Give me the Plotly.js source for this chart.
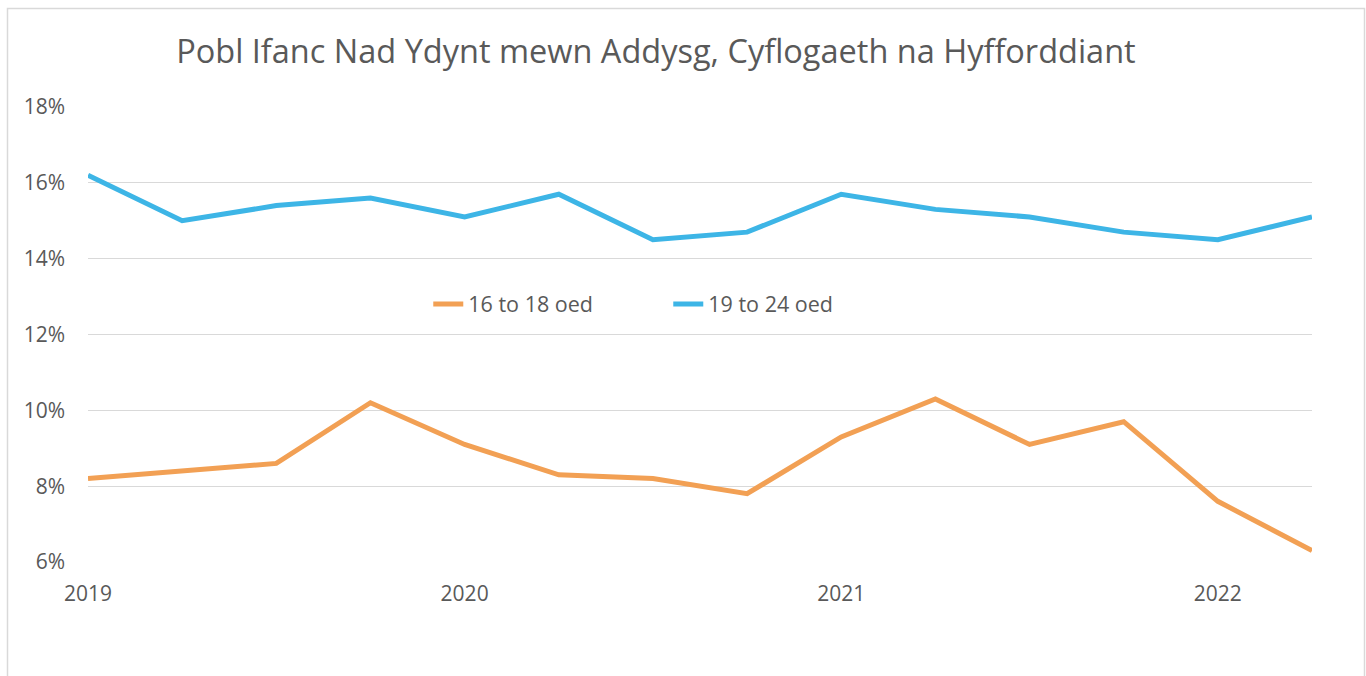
<!DOCTYPE html>
<html>
<head>
<meta charset="utf-8">
<script src="https://cdn.plot.ly/plotly-3.0.1.min.js"></script>
<style>
html,body{margin:0;padding:0;background:#fff;}
#chart{width:1366px;height:676px;}
</style>
</head>
<body>
<div id="chart"></div>
<script>
const quarterIndex = [0,1,2,3,4,5,6,7,8,9,10,11,12,13];
const series1Name = "16 to 18 oed";
const series1 = [8.2,8.4,8.6,10.2,9.1,8.3,8.2,7.8,9.3,10.3,9.1,9.7,7.6,6.3];
const series2Name = "19 to 24 oed";
const series2 = [16.2,15.0,15.4,15.6,15.1,15.7,14.5,14.7,15.7,15.3,15.1,14.7,14.5,15.1];
const xTickVals = [0,4,8,12];
const xTickText = ["2019","2020","2021","2022"];
const yTickVals = [6,8,10,12,14,16,18];
const yTickText = ["6%","8%","10%","12%","14%","16%","18%"];
const titleText = "Pobl Ifanc Nad Ydynt mewn Addysg, Cyflogaeth na Hyfforddiant";

const FONT = "Open Sans, Noto Sans, sans-serif";
const GREY = "#595959";

const traces = [
  {x: quarterIndex, y: series1, name: series1Name, type: "scatter", mode: "lines",
   line: {color: "#F2A054", width: 5, shape: "linear"}, hoverinfo: "skip"},
  {x: quarterIndex, y: series2, name: series2Name, type: "scatter", mode: "lines",
   line: {color: "#3DB5E6", width: 5, shape: "linear"}, hoverinfo: "skip"}
];

const layout = {
  width: 1366, height: 676,
  margin: {l: 88, r: 54, t: 107, b: 114, pad: 0},
  paper_bgcolor: "#ffffff", plot_bgcolor: "#ffffff",
  font: {family: FONT, color: GREY},
  title: {text: titleText, font: {family: FONT, size: 32.5, color: GREY},
          x: 0.464, xanchor: "center", xref: "paper", y: 0.924, yanchor: "middle"},
  showlegend: true,
  legend: {orientation: "h", x: 0.278, xanchor: "left", y: 0.567, yanchor: "middle",
           bgcolor: "rgba(0,0,0,0)", font: {family: FONT, size: 21.5, color: GREY},
           entrywidth: 195, entrywidthmode: "pixels", traceorder: "normal"},
  xaxis: {range: [0, 13], tickvals: xTickVals, ticktext: xTickText,
          showgrid: false, zeroline: false, showline: false,
          ticks: "", ticklabelstandoff: 17,
          tickfont: {family: FONT, size: 21, color: GREY}, fixedrange: true},
  yaxis: {range: [6, 18], tickvals: yTickVals, ticktext: yTickText,
          showgrid: true, gridcolor: "#d9d9d9", gridwidth: 1.3,
          zeroline: false, showline: false, ticks: "", ticklabelstandoff: 22,
          tickfont: {family: FONT, size: 21, color: GREY}, fixedrange: true},
  shapes: [
    {type: "rect", xref: "paper", yref: "paper",
     x0: (7.5-88)/1224, x1: (1364.5-88)/1224, y0: (562-700)/455, y1: (562-8.5)/455,
     line: {color: "#d9d9d9", width: 1.5}, fillcolor: "rgba(0,0,0,0)", layer: "below"}
  ]
};

Plotly.newPlot("chart", traces, layout, {displayModeBar: false, staticPlot: true});
</script>
</body>
</html>
